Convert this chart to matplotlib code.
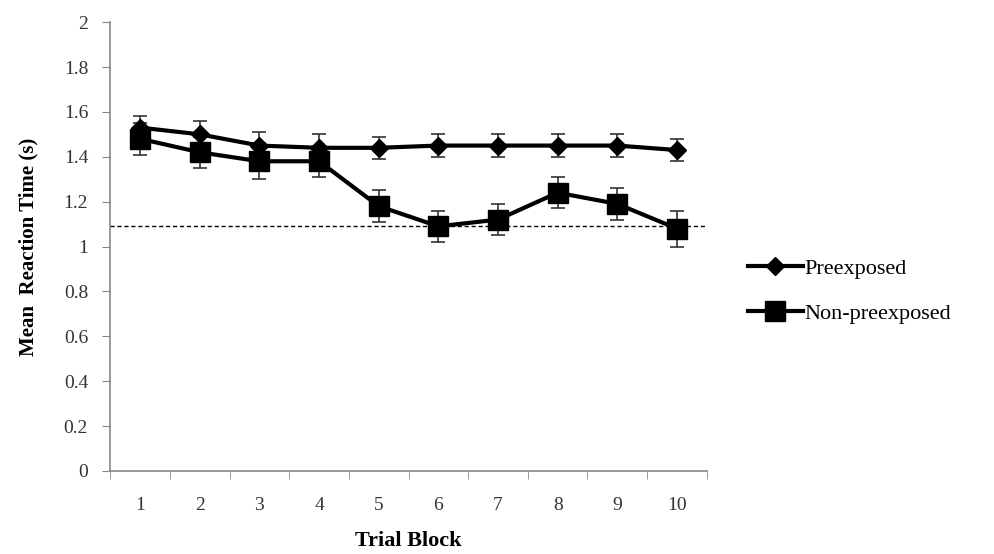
import matplotlib.pyplot as plt
import numpy as np

# Trial blocks and mean reaction times
blocks = ['1', '2', '3', '4', '5', '6', '7', '8', '9', '10']
preexposed = [1.53, 1.50, 1.45, 1.44, 1.44, 1.45, 1.45, 1.45, 1.45, 1.43]
preexposed_err = [0.05, 0.06, 0.06, 0.06, 0.05, 0.05, 0.05, 0.05, 0.05, 0.05]
non_preexposed = [1.48, 1.42, 1.38, 1.38, 1.18, 1.09, 1.12, 1.24, 1.19, 1.08]
non_preexposed_err = [0.07, 0.07, 0.08, 0.07, 0.07, 0.07, 0.07, 0.07, 0.07, 0.08]
baseline = 1.09

plt.rcParams['font.family'] = ['Liberation Serif', 'DejaVu Serif']

fig = plt.figure(figsize=(9.94, 5.54), dpi=100)
ax = fig.add_axes([0.111, 0.150, 0.600, 0.810])

x = np.arange(len(blocks))

ax.axhline(baseline, color='black', linestyle=(0, (3, 2)), linewidth=1.0, zorder=1)

# error bars first, then the lines with markers (these give clean legend entries)
ax.errorbar(x, preexposed, yerr=preexposed_err, fmt='none', ecolor='#333333',
            elinewidth=1.2, capsize=5, capthick=1.2, zorder=2)
ax.errorbar(x, non_preexposed, yerr=non_preexposed_err, fmt='none', ecolor='#333333',
            elinewidth=1.2, capsize=5, capthick=1.2, zorder=2)
ax.plot(x, preexposed, color='black', linewidth=3, marker='D', markersize=9,
        label='Preexposed', zorder=3)
ax.plot(x, non_preexposed, color='black', linewidth=3, marker='s', markersize=14,
        label='Non-preexposed', zorder=3)

ax.set_xlim(-0.5, len(blocks) - 0.5)
ax.set_ylim(0, 2)
ax.set_yticks(np.arange(0, 2.01, 0.2))
ax.set_yticklabels(['0', '0.2', '0.4', '0.6', '0.8', '1', '1.2', '1.4', '1.6', '1.8', '2'])
ax.set_xticks(x)
ax.set_xticklabels(blocks)
ax.set_xticks(np.arange(-0.5, len(blocks), 1.0), minor=True)
ax.tick_params(axis='x', which='major', length=0, pad=19, labelsize=14, colors='#333333')
ax.tick_params(axis='x', which='minor', length=6, color='#888888', direction='out')
ax.tick_params(axis='y', length=6, color='#888888', labelsize=14, labelcolor='#333333', pad=10)

for side in ['top', 'right']:
    ax.spines[side].set_visible(False)
for side in ['left', 'bottom']:
    ax.spines[side].set_color('#888888')
    ax.spines[side].set_linewidth(1.2)

ax.set_xlabel('Trial Block', fontsize=16, fontweight='bold', labelpad=12)
ax.set_ylabel('Mean  Reaction Time (s)', fontsize=15, fontweight='bold', labelpad=18)

ax.legend(loc='center left', bbox_to_anchor=(1.035, 0.40), frameon=False, fontsize=16,
          handlelength=2.5, handletextpad=0.05, labelspacing=1.1)

fig.savefig('out.png', dpi=100)
